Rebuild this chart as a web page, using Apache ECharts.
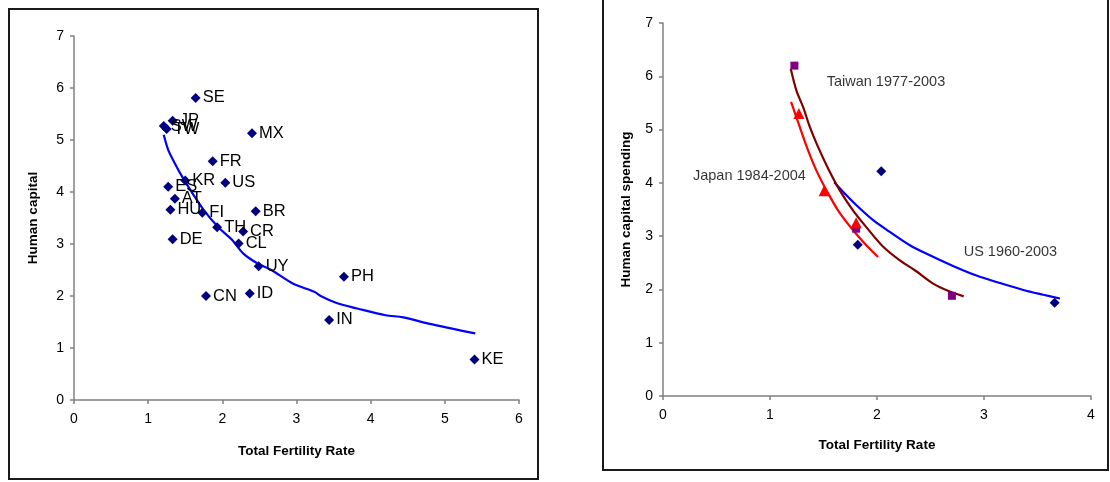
<!DOCTYPE html>
<html><head><meta charset="utf-8">
<script src="https://cdn.jsdelivr.net/npm/echarts@6/dist/echarts.min.js"></script>
<style>html,body{margin:0;padding:0;background:#fff}#c{width:1110px;height:482px}</style>
</head><body><div id="c"></div>
<script>
// Left chart: countries
const leftCountries = ['SE','JP','SW','TW','MX','FR','KR','US','ES','AT','HU','FI','BR','TH','CR','CL','DE','UY','PH','CN','ID','IN','KE'];
const leftTFR = [1.64,1.33,1.21,1.25,2.40,1.87,1.50,2.04,1.27,1.36,1.30,1.73,2.45,1.93,2.28,2.22,1.33,2.49,3.64,1.78,2.37,3.44,5.40];
const leftHC  = [5.81,5.37,5.27,5.21,5.13,4.59,4.22,4.18,4.10,3.87,3.66,3.60,3.63,3.32,3.24,3.01,3.09,2.57,2.37,2.00,2.05,1.54,0.78];
const leftTrendX = [1.21,1.27,1.36,1.46,1.60,1.75,1.94,2.13,2.28,2.47,2.66,2.95,3.24,3.34,3.55,3.82,4.20,4.44,4.78,5.41];
const leftTrendY = [5.10,4.81,4.55,4.29,3.97,3.65,3.33,3.08,2.82,2.63,2.50,2.24,2.08,1.99,1.86,1.76,1.63,1.59,1.47,1.28];

// Right chart
const twX = [1.228,1.805,2.70], twY = [6.20,3.14,1.88];
const jpX = [1.27,1.506,1.805], jpY = [5.30,3.85,3.25];
const usX = [2.04,1.82,3.66],  usY = [4.22,2.84,1.75];
const twFitX = [1.194,1.247,1.31,1.372,1.45,1.543,1.652,1.777,1.90,2.058,2.21,2.354,2.525,2.68,2.81];
const twFitY = [6.14,5.73,5.42,5.05,4.67,4.27,3.86,3.48,3.17,2.80,2.55,2.36,2.11,1.96,1.87];
const jpFitX = [1.197,1.278,1.356,1.434,1.528,1.637,1.777,1.90,2.01];
const jpFitY = [5.52,5.05,4.61,4.23,3.86,3.48,3.11,2.83,2.61];
const usFitX = [1.60,1.684,1.808,1.964,2.12,2.307,2.494,2.71,2.93,3.149,3.367,3.554,3.71];
const usFitY = [4.01,3.83,3.58,3.30,3.08,2.83,2.64,2.44,2.26,2.12,1.99,1.90,1.83];
const annoText = ['Taiwan 1977-2003','Japan 1984-2004','US 1960-2003'];
const annoX = [1.53,0.28,2.81];
const annoY = [5.89,4.13,2.70];

const xTitle = 'Total Fertility Rate';
const yTitleLeft = 'Human capital';
const yTitleRight = 'Human capital spending';

const FONT = "'Liberation Sans', Arial, sans-serif";
const zip = (a,b) => a.map((v,i)=>[v,b[i]]);

function axisCommon(margin){
  return {
    axisLine:{show:true,onZero:false,lineStyle:{color:'#808080',width:1.5}},
    axisTick:{show:true,inside:false,length:4,lineStyle:{color:'#808080',width:1.5}},
    splitLine:{show:false},
    axisLabel:{color:'#000',fontSize:14,fontFamily:FONT,margin:margin},
    nameTextStyle:{color:'#000',fontSize:13.5,fontWeight:'bold',fontFamily:FONT},
    nameLocation:'middle'
  };
}

const chart = echarts.init(document.getElementById('c'), null, {renderer:'canvas'});
chart.setOption({
  animation:false,
  backgroundColor:'#fff',
  grid:[
    {left:74,top:36,width:445,height:364},
    {left:663,top:23,width:428,height:373}
  ],
  xAxis:[
    Object.assign(axisCommon(12),{type:'value',gridIndex:0,min:0,max:6,interval:1,name:xTitle,nameGap:44}),
    Object.assign(axisCommon(12),{type:'value',gridIndex:1,min:0,max:4,interval:1,name:xTitle,nameGap:42})
  ],
  yAxis:[
    Object.assign(axisCommon(10),{type:'value',gridIndex:0,min:0,max:7,interval:1,name:yTitleLeft,nameGap:34}),
    Object.assign(axisCommon(10),{type:'value',gridIndex:1,min:0,max:7,interval:1,name:yTitleRight,nameGap:30})
  ],
  graphic:[
    {type:'rect',shape:{x:9,y:9,width:529,height:470},style:{fill:'none',stroke:'#1a1a1a',lineWidth:2},z:-1},
    {type:'rect',shape:{x:603,y:-5,width:505,height:475},style:{fill:'none',stroke:'#1a1a1a',lineWidth:2},z:-1}
  ],
  series:[
    {type:'line',xAxisIndex:0,yAxisIndex:0,data:zip(leftTrendX,leftTrendY),showSymbol:false,smooth:0.3,
     lineStyle:{color:'#0000ff',width:2.2},z:2},
    {type:'scatter',xAxisIndex:0,yAxisIndex:0,
     data:leftTFR.map((x,i)=>({value:[x,leftHC[i]],name:leftCountries[i]})),
     symbol:'diamond',symbolSize:10,itemStyle:{color:'#000080',opacity:1},
     label:{show:true,position:'right',distance:2,formatter:p=>p.name,color:'#000',fontSize:16.5,fontFamily:FONT},z:3},
    {type:'line',xAxisIndex:1,yAxisIndex:1,data:zip(usFitX,usFitY),showSymbol:false,smooth:0.3,lineStyle:{color:'#0000ff',width:2.2},z:2},
    {type:'line',xAxisIndex:1,yAxisIndex:1,data:zip(twFitX,twFitY),showSymbol:false,smooth:0.3,lineStyle:{color:'#800000',width:2.2},z:2},
    {type:'line',xAxisIndex:1,yAxisIndex:1,data:zip(jpFitX,jpFitY),showSymbol:false,smooth:0.3,lineStyle:{color:'#ff0000',width:2.2},z:2},
    {type:'scatter',xAxisIndex:1,yAxisIndex:1,data:zip(usX,usY),symbol:'diamond',symbolSize:10,itemStyle:{color:'#000080',opacity:1},z:3},
    {type:'scatter',xAxisIndex:1,yAxisIndex:1,data:zip(twX,twY),symbol:'rect',symbolSize:8,itemStyle:{color:'#800080',opacity:1},z:3},
    {type:'scatter',xAxisIndex:1,yAxisIndex:1,data:zip(jpX,jpY),symbol:'triangle',symbolSize:[11,11],itemStyle:{color:'#ff0000',opacity:1},z:3},
    {type:'scatter',xAxisIndex:1,yAxisIndex:1,
     data:annoX.map((x,i)=>({value:[x,annoY[i]],name:annoText[i]})),
     symbolSize:0,silent:true,
     label:{show:true,position:'right',distance:0,formatter:p=>p.name,color:'#000',fontSize:14.5,fontFamily:FONT},z:4}
  ]
});
</script></body></html>
